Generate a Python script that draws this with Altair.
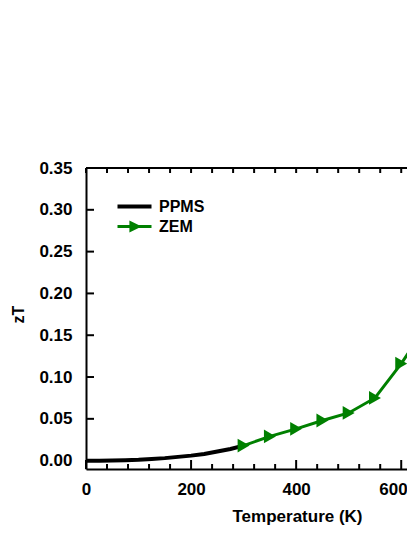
import altair as alt
import pandas as pd

# ---- data ----
ppms_T = [0, 25, 50, 75, 100, 125, 150, 175, 200, 225, 250, 275, 300]
ppms_zT = [0.0, 0.0, 0.0002, 0.0005, 0.001, 0.002, 0.003, 0.0045, 0.006, 0.008, 0.011, 0.014, 0.018]
zem_T = [300, 350, 400, 450, 500, 550, 600, 650]
zem_zT = [0.018, 0.029, 0.038, 0.048, 0.057, 0.075, 0.116, 0.163]
series_names = ["PPMS", "ZEM"]
series_colors = ["#000000", "#008000"]
y_ticks = [0.0, 0.05, 0.10, 0.15, 0.20, 0.25, 0.30, 0.35]
x_major = [0, 200, 400, 600]
x_minor = [40, 80, 120, 160, 240, 280, 320, 360, 440, 480, 520, 560]
x_top = [0, 40, 80, 120, 160, 200, 240, 280, 320, 360, 400, 440, 480, 520, 560, 600]

FONT = "Liberation Sans"

ppms = pd.DataFrame({"T": ppms_T, "zT": ppms_zT, "series": "PPMS"})
zem = pd.DataFrame({"T": zem_T, "zT": zem_zT, "series": "ZEM"})
alldata = pd.concat([ppms, zem], ignore_index=True)

W, H = 321, 301
xscale = alt.Scale(domain=[0, 611], nice=False, zero=False)
yscale = alt.Scale(domain=[-0.01, 0.35], nice=False, zero=False)

x_axis = alt.Axis(
    title="Temperature (K)", values=x_major, ticks=False, grid=False,
    domain=True, domainColor="black", domainWidth=2,
    labelFont=FONT, labelFontSize=17, labelFontWeight="bold", labelColor="black",
    labelPadding=12, labelFlush=False, labelOverlap=False,
    labelAlign={"condition": {"test": "datum.value >= 600", "value": "right"}, "value": "center"},
    labelOffset={"condition": {"test": "datum.value >= 600", "value": 6}, "value": 0},
    titleFont=FONT, titleFontSize=17, titleFontWeight="bold", titleColor="black",
    titleX=211, titleY=52, titleBaseline="alphabetic", titleAlign="center",
)
y_axis = alt.Axis(
    title="zT", values=y_ticks, format=".2f", ticks=False, grid=False,
    domain=True, domainColor="black", domainWidth=2,
    labelFont=FONT, labelFontSize=17, labelFontWeight="bold", labelColor="black",
    labelPadding=14, labelFlush=False, labelOverlap=False,
    titleFont=FONT, titleFontSize=16, titleFontWeight="bold", titleColor="black",
    titleX=-68, titleY=146, titleBaseline="middle", titleAlign="center", titleAngle=270,
)


def X(field):
    return alt.X(field, scale=xscale, axis=x_axis)


def Y(field):
    return alt.Y(field, scale=yscale, axis=y_axis)


ppms_line = alt.Chart(ppms).mark_line(color="#000000", strokeWidth=4, clip=True).encode(
    x=X("T:Q"), y=Y("zT:Q"),
)
zem_line = alt.Chart(zem).mark_line(color="#008000", strokeWidth=3, clip=True).encode(
    x=X("T:Q"), y=Y("zT:Q"),
)
zem_pts = alt.Chart(zem).mark_point(
    shape="triangle-right", filled=True, color="#008000", size=190, opacity=1, clip=True
).encode(
    x=X("T:Q"), y=Y("zT:Q"),
)

leg = alt.Legend(
    orient="none", legendX=40, legendY=30, title=None, padding=0,
    symbolSize=289, symbolStrokeWidth=0, symbolOpacity=1,
    labelFont=FONT, labelFontSize=16, labelFontWeight="bold", labelColor="black",
    labelOffset=16, rowPadding=3,
)
legend_layer = alt.Chart(alldata).transform_filter("false").mark_point(filled=True, opacity=1).encode(
    x=X("T:Q"), y=Y("zT:Q"),
    color=alt.Color("series:N", scale=alt.Scale(domain=series_names, range=series_colors), legend=leg),
    shape=alt.Shape("series:N", scale=alt.Scale(domain=series_names, range=[
        "M-2,-0.24L2,-0.24L2,0.24L-2,0.24Z",
        "M-2,-0.18L2,-0.18L2,0.18L-2,0.18Z M-0.6,-0.72L0.84,0L-0.6,0.72Z",
    ]), legend=leg),
)

# inward ticks
yt = alt.Chart(pd.DataFrame({"T": [0] * len(y_ticks), "zT": y_ticks})).mark_rule(color="black", strokeWidth=2).encode(
    y=Y("zT:Q"), x=alt.value(0), x2=alt.value(8)
)
xt_major = alt.Chart(pd.DataFrame({"T": x_major})).mark_rule(color="black", strokeWidth=2).encode(
    x=X("T:Q"), y=alt.value(H), y2=alt.value(H - 9)
)
xt_minor = alt.Chart(pd.DataFrame({"T": x_minor})).mark_rule(color="black", strokeWidth=2).encode(
    x=X("T:Q"), y=alt.value(H), y2=alt.value(H - 5)
)
xt_top = alt.Chart(pd.DataFrame({"T": x_top})).mark_rule(color="black", strokeWidth=2).encode(
    x=X("T:Q"), y=alt.value(0), y2=alt.value(5)
)
top_line = alt.Chart(pd.DataFrame({"T": [0]})).mark_rule(color="black", strokeWidth=2).encode(
    x=alt.value(0), x2=alt.value(W), y=alt.value(0)
)

chart = alt.layer(
    ppms_line, zem_line, zem_pts, legend_layer, yt, xt_major, xt_minor, xt_top, top_line
).properties(
    width=W, height=H,
    padding={"left": 78, "top": 160, "right": 0, "bottom": 56},
    autosize=alt.AutoSizeParams(type="none"),
    background="white",
).configure_view(stroke=None)

chart.save("out.html", embed_options={"renderer": "svg", "actions": False})
